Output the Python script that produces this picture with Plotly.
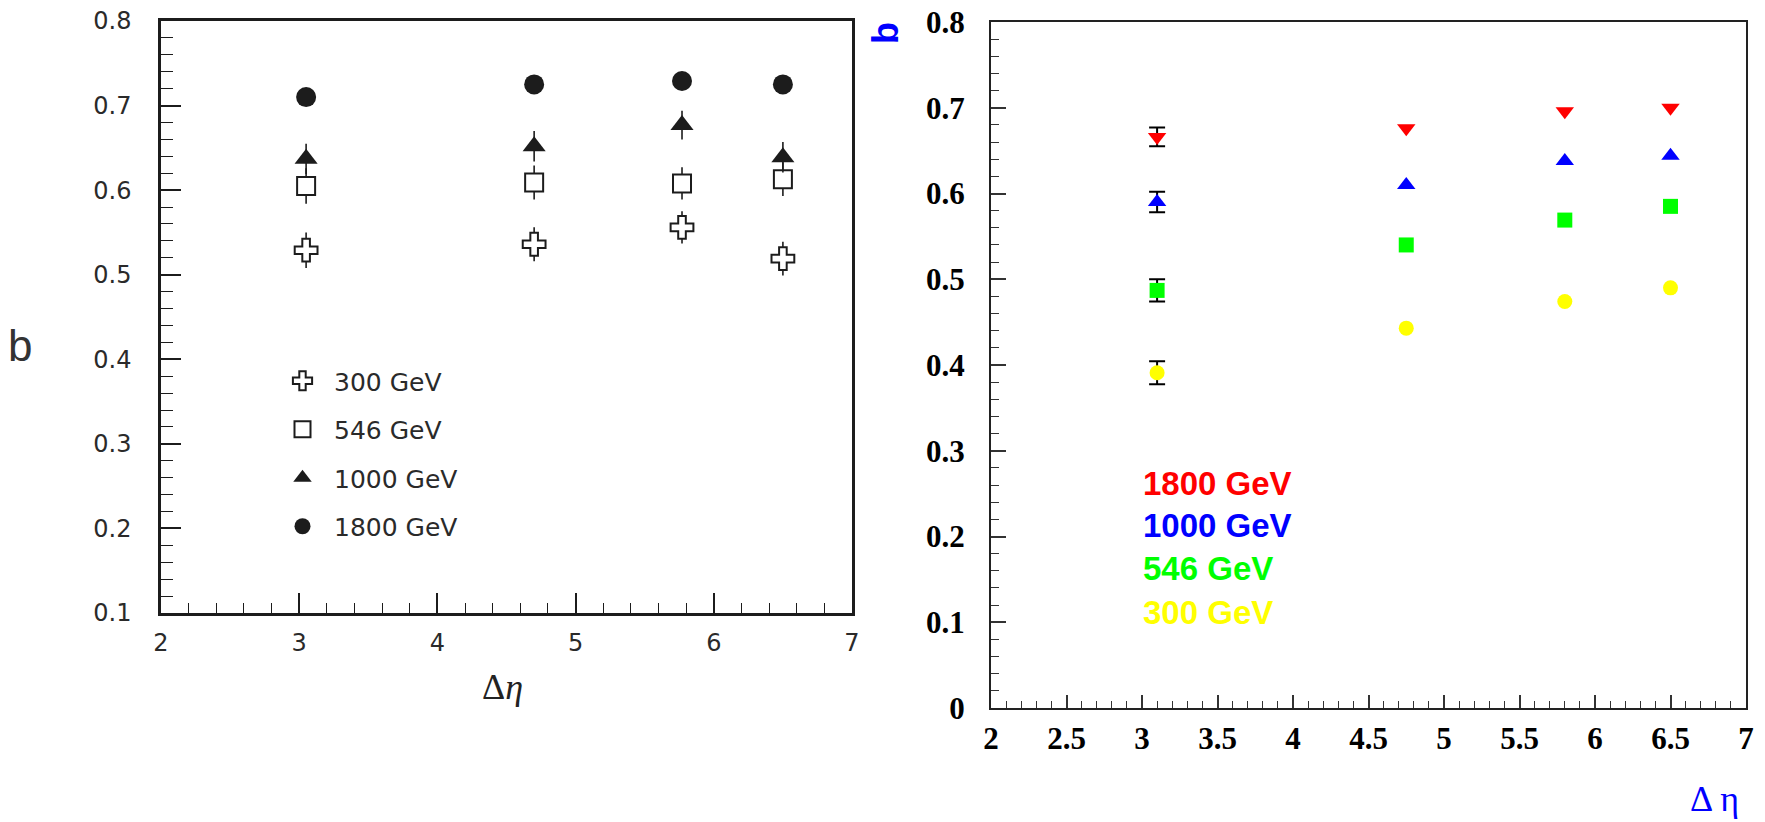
import math
import plotly.graph_objects as go

W, H = 1765, 822

# ---- left panel: b vs delta-eta (earlier measurement) ----
eta_left = [3.05, 4.70, 5.77, 6.50]
b_left_300 = [0.529, 0.536, 0.556, 0.519]
b_left_546 = [0.605, 0.609, 0.608, 0.613]
b_left_1000 = [0.637, 0.652, 0.677, 0.639]
b_left_1800 = [0.710, 0.725, 0.729, 0.725]
err_left_300 = [0.021, 0.020, 0.019, 0.020]
err_left_546 = [0.021, 0.020, 0.019, 0.020]
err_left_1000 = [0.018, 0.018, 0.017, 0.018]
err_left_1800 = [0.008, 0.008, 0.008, 0.008]

# ---- right panel: b vs delta-eta ----
eta_right = [3.10, 4.75, 5.80, 6.50]
b_right_1800 = [0.666, 0.676, 0.696, 0.700]
b_right_1000 = [0.590, 0.610, 0.638, 0.644]
b_right_546 = [0.487, 0.540, 0.569, 0.585]
b_right_300 = [0.391, 0.443, 0.474, 0.490]
nan = float("nan")
err_right_1800 = [0.011, nan, nan, nan]
err_right_1000 = [0.012, nan, nan, nan]
err_right_546 = [0.013, nan, nan, nan]
err_right_300 = [0.0135, nan, nan, nan]

energies = ["300 GeV", "546 GeV", "1000 GeV", "1800 GeV"]


def px_x(p):
    return p / W


def px_y(p):
    return 1 - p / H


fig = go.Figure()

INK = "#1c1c1c"

left_series = [
    (energies[0], b_left_300, err_left_300, dict(symbol="cross", size=19, color="white", line=dict(color=INK, width=2))),
    (energies[1], b_left_546, err_left_546, dict(symbol="square", size=18, color="white", line=dict(color=INK, width=2))),
    (energies[2], b_left_1000, err_left_1000, dict(symbol="triangle-up", size=20, color=INK, line=dict(width=0))),
    (energies[3], b_left_1800, err_left_1800, dict(symbol="circle", size=20, color=INK, line=dict(width=0))),
]
for name, vals, errs, marker in left_series:
    fig.add_trace(go.Scatter(
        x=eta_left, y=vals, mode="markers", name=name, marker=marker,
        legendgroup=name, xaxis="x", yaxis="y",
        error_y=dict(type="data", array=errs, width=0, thickness=1.6, color=INK),
    ))

right_series = [
    (energies[3], b_right_1800, err_right_1800, dict(symbol="triangle-down", size=16, color="#ff0000")),
    (energies[2], b_right_1000, err_right_1000, dict(symbol="triangle-up", size=16, color="#0000ff")),
    (energies[1], b_right_546, err_right_546, dict(symbol="square", size=15, color="#00ff00")),
    (energies[0], b_right_300, err_right_300, dict(symbol="circle", size=15, color="#ffff00")),
]
# error bars exist only where an uncertainty is quoted
for name, vals, errs, marker in right_series:
    keep = [i for i, e in enumerate(errs) if not math.isnan(e)]
    fig.add_trace(go.Scatter(
        x=[eta_right[i] for i in keep], y=[vals[i] for i in keep],
        mode="markers", marker=dict(size=1, opacity=0), showlegend=False,
        hoverinfo="skip", xaxis="x2", yaxis="y2",
        error_y=dict(type="data", array=[errs[i] for i in keep], width=8,
                     thickness=2, color="black"),
    ))
for name, vals, errs, marker in right_series:
    fig.add_trace(go.Scatter(
        x=eta_right, y=vals, mode="markers", name=name,
        marker=dict(line=dict(width=0), **marker), showlegend=False,
        xaxis="x2", yaxis="y2",
    ))

left_tick_font = dict(family="DejaVu Sans", size=24, color="#2a2a2a")
right_tick_font = dict(family="Liberation Serif", size=31, color="black", weight="bold")

common_left = dict(showgrid=False, zeroline=False, showline=True, linecolor=INK,
                   linewidth=2.5, mirror=True, ticks="inside", tickcolor=INK,
                   tickwidth=1.6, tickfont=left_tick_font, automargin=False)
common_right = dict(showgrid=False, zeroline=False, showline=True, linecolor="#222",
                    linewidth=2, mirror=True, ticks="inside", tickcolor="#333",
                    tickwidth=1.5, tickfont=right_tick_font, automargin=False)

fig.update_layout(
    width=W, height=H, margin=dict(l=0, r=0, t=0, b=0, autoexpand=False),
    paper_bgcolor="white", plot_bgcolor="white",
    xaxis=dict(domain=[px_x(161), px_x(852)], range=[2, 7], dtick=1, tick0=0,
               ticklen=20, ticklabelstandoff=6, anchor="y",
               minor=dict(dtick=0.2, ticks="inside", ticklen=10, tickwidth=1.4, tickcolor=INK),
               **common_left),
    yaxis=dict(domain=[px_y(613), px_y(21)], range=[0.1, 0.8], dtick=0.1, tick0=0,
               ticklen=20, ticklabelstandoff=22, anchor="x",
               minor=dict(dtick=0.02, ticks="inside", ticklen=12, tickwidth=1.4, tickcolor=INK),
               **common_left),
    xaxis2=dict(domain=[px_x(991), px_x(1746)], range=[2, 7], dtick=0.5, tick0=0,
                ticklen=13, ticklabelstandoff=2, anchor="y2",
                minor=dict(dtick=0.1, ticks="inside", ticklen=7, tickwidth=1.2, tickcolor="#333"),
                **common_right),
    yaxis2=dict(domain=[px_y(708), px_y(22)], range=[0, 0.8], dtick=0.1, tick0=0,
                ticklen=15, ticklabelstandoff=18, anchor="x2",
                minor=dict(dtick=0.02, ticks="inside", ticklen=8, tickwidth=1.2, tickcolor="#333"),
                **common_right),
    showlegend=True,
    legend=dict(x=px_x(271), y=px_y(358), xanchor="left", yanchor="top",
                font=dict(family="DejaVu Sans", size=25, color="#2a2a2a"),
                bgcolor="rgba(0,0,0,0)", traceorder="grouped", tracegroupgap=13,
                itemwidth=53, itemclick=False),
)

annotations = [
    # left axis titles
    dict(text="b", x=px_x(20), y=px_y(345), font=dict(family="Liberation Sans", size=44, color="#333")),
    dict(text="Δ<i>η</i>", x=px_x(502), y=px_y(687), font=dict(family="Liberation Serif", size=36, color="#222")),
    # right axis titles
    dict(text="<b>b</b>", x=px_x(885), y=px_y(33), textangle=-90,
         font=dict(family="Liberation Sans", size=36, color="#0000ff")),
    dict(text="Δ η", x=px_x(1714), y=px_y(799), font=dict(family="Liberation Serif", size=36, color="#0000ff")),
]
label_colors = {"1800 GeV": "#ff0000", "1000 GeV": "#0000ff", "546 GeV": "#00ff00", "300 GeV": "#ffff00"}
for name, ypix in zip(["1800 GeV", "1000 GeV", "546 GeV", "300 GeV"], [483, 525, 568, 612]):
    annotations.append(dict(text=name, x=px_x(1141), y=px_y(ypix), xanchor="left",
                            font=dict(family="Liberation Sans", size=33, weight="bold",
                                      color=label_colors[name])))
for a in annotations:
    a.update(xref="paper", yref="paper", showarrow=False)
    a.setdefault("xanchor", "center")
    a.setdefault("yanchor", "middle")
fig.update_layout(annotations=annotations)

fig.write_html("out.html")
